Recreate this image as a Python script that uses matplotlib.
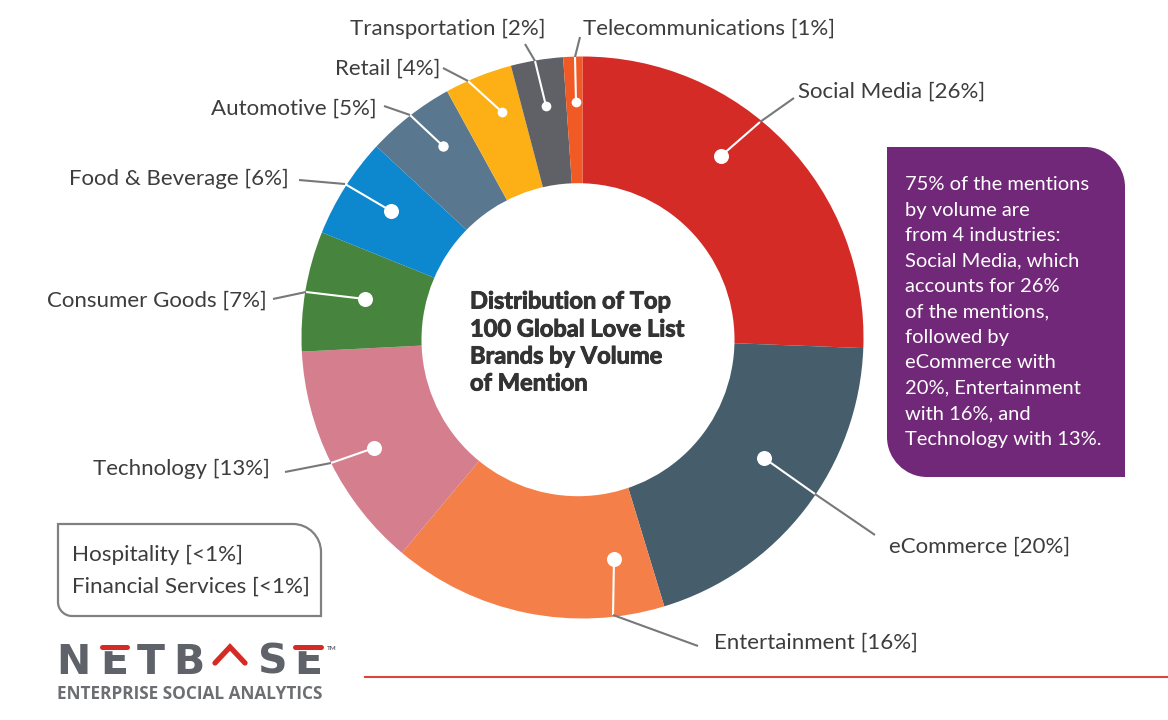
import matplotlib
matplotlib.use("Agg")
import matplotlib.pyplot as plt
import matplotlib.patheffects as pe
from matplotlib.path import Path
from matplotlib.patches import PathPatch, Circle

categories = ["Social Media", "eCommerce", "Entertainment", "Technology", "Consumer Goods",
              "Food & Beverage", "Automotive", "Retail", "Transportation", "Telecommunications"]
values = [25.6, 19.7, 15.8, 13.1, 6.9, 5.8, 5.1, 3.9, 3.0, 1.1]
labels_pct = ["26%", "20%", "16%", "13%", "7%", "6%", "5%", "4%", "2%", "1%"]
colors = ["#d52b26", "#465d6c", "#f57f48", "#d57e8d", "#47843d",
          "#0d87cd", "#59788f", "#fdb016", "#5f6166", "#f15a24"]
other_labels = ["Hospitality [<1%]", "Financial Services [<1%]"]
title_lines = ["Distribution of Top", "100 Global Love List", "Brands by Volume", "of Mention"]
note_lines = ["75% of the mentions", "by volume are", "from 4 industries:", "Social Media, which",
              "accounts for 26%", "of the mentions,", "followed by", "eCommerce with",
              "20%, Entertainment", "with 16%, and", "Technology with 13%."]

W, H = 1168, 720
TXT = "#3d3d3d"
FONT = "Lato"
fig = plt.figure(figsize=(W / 100, H / 100), dpi=100)
ax = fig.add_axes([0, 0, 1, 1])


def Y(y):
    return H - y


ax.pie(values, colors=colors, startangle=90, counterclock=False, center=(582.5, Y(337.5)), radius=281,
       wedgeprops=dict(width=160, linewidth=0), frame=False)
ax.set_xlim(0, W)
ax.set_ylim(0, H)
ax.set_aspect("equal")
ax.axis("off")
# the hole sits slightly off the ring's centre in the reference
ax.add_patch(Circle((578, Y(339.7)), 156.5, fc="white", ec="none", zorder=2))

# leader lines: dot, ring edge, label end, dot size (pixel layout)
leaders = [
    ((721, 156), (760, 122), (794, 98), 10.8),
    ((764, 458), (815, 494), (875, 535), 10.8),
    ((614, 559), (613, 615), (698, 646), 10.8),
    ((374, 448), (331, 463), (285, 472), 10.8),
    ((365, 299), (306, 292), (273, 299), 10.8),
    ((391, 211), (345, 184), (299, 180), 10.8),
    ((443, 146), (410, 115), (384, 106), 7.5),
    ((502, 112), (468, 81), (443, 68), 7),
    ((546, 106), (535, 61), (525, 44), 7),
    ((576, 102), (575, 57), (580, 37), 7),
]
for dot, edge, end, size in leaders:
    ax.plot([dot[0], edge[0]], [Y(dot[1]), Y(edge[1])], color="white", lw=1.5, solid_capstyle="butt", zorder=3)
    ax.plot([edge[0], end[0]], [Y(edge[1]), Y(end[1])], color="#77787b", lw=1.5, solid_capstyle="butt", zorder=3)
    ax.plot([dot[0]], [Y(dot[1])], "o", color="white", ms=size, mew=0, zorder=4)

# labels: x anchor, y, ha
label_pos = [(798, 92, "left"), (889, 547, "left"), (714, 643, "left"), (270, 469, "right"),
             (267, 301, "right"), (289, 179, "right"), (377, 109, "right"), (440, 69, "right"),
             (546, 29, "right"), (583, 29, "left")]
for name, pct, (x, y, ha) in zip(categories, labels_pct, label_pos):
    ax.text(x, Y(y), f"{name} [{pct}]", ha=ha, va="center", fontsize=16, color=TXT, family=FONT, zorder=5)

# centre title
for txt, y in zip(title_lines, [301, 329, 356, 383]):
    ax.text(470, Y(y), txt, ha="left", va="center", fontsize=17, color="#333333", family=FONT,
            weight="bold", zorder=5,
            path_effects=[pe.withStroke(linewidth=0.7, foreground="#333333")])


def round_box(x0, y0, x1, y1, tr, bl):
    """Rectangle in image pixels; top-right and bottom-left corners rounded."""
    k = 0.45
    v = [(x0, y0), (x1 - tr, y0), (x1 - tr * k, y0), (x1, y0 + tr * k), (x1, y0 + tr), (x1, y1),
         (x0 + bl, y1), (x0 + bl * k, y1), (x0, y1 - bl * k), (x0, y1 - bl), (x0, y0)]
    c = [Path.MOVETO, Path.LINETO, Path.CURVE4, Path.CURVE4, Path.CURVE4, Path.LINETO,
         Path.LINETO, Path.CURVE4, Path.CURVE4, Path.CURVE4, Path.CLOSEPOLY]
    return Path([(a, Y(b)) for a, b in v], c)


# purple note
ax.add_patch(PathPatch(round_box(887, 147, 1125, 477, 40, 40), fc="#722878", ec="none", zorder=2))
for i, line in enumerate(note_lines):
    ax.text(905, Y(185 + i * 25.4), line, ha="left", va="center", fontsize=14.5, color="white", family=FONT, zorder=5)

# outlined box
ax.add_patch(PathPatch(round_box(58, 524, 321, 616, 28, 14), fc="white", ec="#808080", lw=1.6, zorder=2))
for txt, y in zip(other_labels, [555, 587]):
    ax.text(72, Y(y), txt, ha="left", va="center", fontsize=16.2, color=TXT, family=FONT, zorder=5)

# logo
GR = "#5f6268"
RED = "#d52b26"
for ch, x in zip("NETBSE", [73.5, 114.5, 151, 188.5, 272.5, 308]):
    ax.text(x, Y(658), ch, ha="center", va="center_baseline", fontsize=29.5, color=GR, weight="bold",
            family="DejaVu Sans", zorder=5)
for x0, x1 in [(102, 127), (295, 321)]:
    ax.plot([x0, x1], [Y(646.5), Y(646.5)], color="white", lw=6, solid_capstyle="butt", zorder=6)
    ax.plot([x0, x1], [Y(646.5), Y(646.5)], color=RED, lw=3.6, solid_capstyle="round", zorder=7)
ax.plot([215, 230, 245], [Y(663), Y(647), Y(663)], color=RED, lw=3.8, solid_capstyle="round",
        solid_joinstyle="miter", zorder=7)
ax.text(327, Y(648), "TM", ha="left", va="center", fontsize=4.5, color=GR, weight="bold", family=FONT)
ax.text(57, Y(694), "ENTERPRISE SOCIAL ANALYTICS", ha="left", va="center", fontsize=12.4, color="#6d6e71",
        weight="bold", family="Open Sans")

# rule
ax.plot([365, W], [Y(677), Y(677)], color="#d9453f", lw=1.5, zorder=2)

fig.savefig("out.png", dpi=100, facecolor="white")
